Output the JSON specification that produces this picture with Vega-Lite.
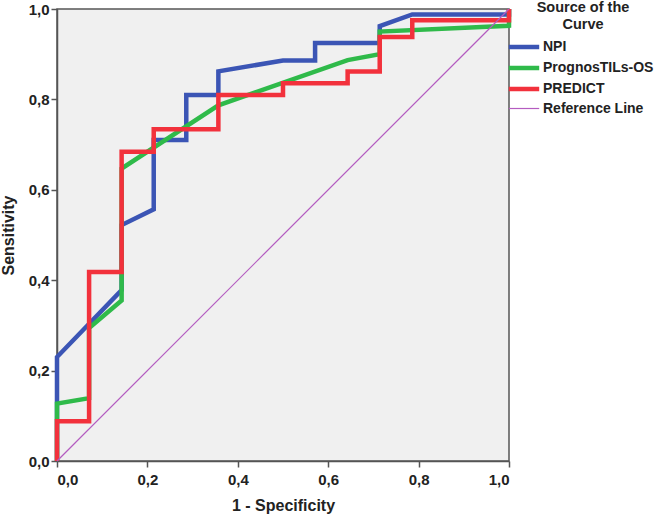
{
  "$schema": "https://vega.github.io/schema/vega-lite/v6.json",
  "width": 452,
  "height": 452,
  "autosize": "none",
  "padding": {"left": 57, "top": 9, "right": 148, "bottom": 58},
  "background": "white",
  "config": {
    "font": "Liberation Sans",
    "view": {"fill": "#f0f0f0", "stroke": "#555555", "strokeWidth": 1.5},
    "axis": {
      "grid": false,
      "domainColor": "#555555",
      "domainWidth": 1.5,
      "tickColor": "#555555",
      "tickWidth": 1.5,
      "tickSize": 6,
      "labelFont": "Liberation Sans",
      "labelFontWeight": "bold",
      "labelFontSize": 15,
      "labelColor": "#222222",
      "titleFont": "Liberation Sans",
      "titleFontWeight": "bold",
      "titleFontSize": 16,
      "titleColor": "#222222"
    },
    "legend": {
      "titleFont": "Liberation Sans",
      "titleFontSize": 14.5,
      "titleFontWeight": "bold",
      "titleColor": "#222222",
      "labelFont": "Liberation Sans",
      "labelFontSize": 14,
      "labelFontWeight": "bold",
      "labelColor": "#222222"
    }
  },
  "data": {
    "values": [
      {"curve": "NPI", "i": 0, "x": 0, "y": 0},
      {"curve": "NPI", "i": 1, "x": 0, "y": 0.23},
      {"curve": "NPI", "i": 2, "x": 0.143, "y": 0.378},
      {"curve": "NPI", "i": 3, "x": 0.143, "y": 0.522},
      {"curve": "NPI", "i": 4, "x": 0.214, "y": 0.557},
      {"curve": "NPI", "i": 5, "x": 0.214, "y": 0.71},
      {"curve": "NPI", "i": 6, "x": 0.286, "y": 0.71},
      {"curve": "NPI", "i": 7, "x": 0.286, "y": 0.81},
      {"curve": "NPI", "i": 8, "x": 0.357, "y": 0.81},
      {"curve": "NPI", "i": 9, "x": 0.357, "y": 0.862},
      {"curve": "NPI", "i": 10, "x": 0.5, "y": 0.886},
      {"curve": "NPI", "i": 11, "x": 0.571, "y": 0.886},
      {"curve": "NPI", "i": 12, "x": 0.571, "y": 0.925},
      {"curve": "NPI", "i": 13, "x": 0.714, "y": 0.925},
      {"curve": "NPI", "i": 14, "x": 0.714, "y": 0.962},
      {"curve": "NPI", "i": 15, "x": 0.786, "y": 0.988},
      {"curve": "NPI", "i": 16, "x": 1, "y": 0.988},
      {"curve": "NPI", "i": 17, "x": 1, "y": 1},
      {"curve": "PrognosTILs-OS", "i": 0, "x": 0, "y": 0},
      {"curve": "PrognosTILs-OS", "i": 1, "x": 0, "y": 0.127},
      {"curve": "PrognosTILs-OS", "i": 2, "x": 0.071, "y": 0.139},
      {"curve": "PrognosTILs-OS", "i": 3, "x": 0.071, "y": 0.294},
      {"curve": "PrognosTILs-OS", "i": 4, "x": 0.143, "y": 0.355},
      {"curve": "PrognosTILs-OS", "i": 5, "x": 0.143, "y": 0.647},
      {"curve": "PrognosTILs-OS", "i": 6, "x": 0.357, "y": 0.787},
      {"curve": "PrognosTILs-OS", "i": 7, "x": 0.643, "y": 0.887},
      {"curve": "PrognosTILs-OS", "i": 8, "x": 0.714, "y": 0.9},
      {"curve": "PrognosTILs-OS", "i": 9, "x": 0.714, "y": 0.95},
      {"curve": "PrognosTILs-OS", "i": 10, "x": 1, "y": 0.963},
      {"curve": "PrognosTILs-OS", "i": 11, "x": 1, "y": 1},
      {"curve": "PREDICT", "i": 0, "x": 0, "y": 0},
      {"curve": "PREDICT", "i": 1, "x": 0, "y": 0.088},
      {"curve": "PREDICT", "i": 2, "x": 0.071, "y": 0.088},
      {"curve": "PREDICT", "i": 3, "x": 0.071, "y": 0.418},
      {"curve": "PREDICT", "i": 4, "x": 0.143, "y": 0.418},
      {"curve": "PREDICT", "i": 5, "x": 0.143, "y": 0.684},
      {"curve": "PREDICT", "i": 6, "x": 0.214, "y": 0.684},
      {"curve": "PREDICT", "i": 7, "x": 0.214, "y": 0.734},
      {"curve": "PREDICT", "i": 8, "x": 0.357, "y": 0.734},
      {"curve": "PREDICT", "i": 9, "x": 0.357, "y": 0.81},
      {"curve": "PREDICT", "i": 10, "x": 0.5, "y": 0.81},
      {"curve": "PREDICT", "i": 11, "x": 0.5, "y": 0.836},
      {"curve": "PREDICT", "i": 12, "x": 0.643, "y": 0.836},
      {"curve": "PREDICT", "i": 13, "x": 0.643, "y": 0.862},
      {"curve": "PREDICT", "i": 14, "x": 0.714, "y": 0.862},
      {"curve": "PREDICT", "i": 15, "x": 0.714, "y": 0.938},
      {"curve": "PREDICT", "i": 16, "x": 0.786, "y": 0.938},
      {"curve": "PREDICT", "i": 17, "x": 0.786, "y": 0.975},
      {"curve": "PREDICT", "i": 18, "x": 1, "y": 0.975},
      {"curve": "PREDICT", "i": 19, "x": 1, "y": 1},
      {"curve": "Reference Line", "i": 0, "x": 0, "y": 0},
      {"curve": "Reference Line", "i": 1, "x": 1, "y": 1}
    ]
  },
  "mark": {"type": "line", "strokeCap": "butt", "strokeJoin": "miter", "clip": false},
  "encoding": {
    "x": {
      "field": "x", "type": "quantitative",
      "scale": {"domain": [0, 1], "nice": false, "zero": false},
      "axis": {"values": [0, 0.2, 0.4, 0.6, 0.8, 1.0], "labelExpr": "replace(format(datum.value, '.1f'), '.', ',')", "title": "1 - Specificity", "titlePadding": 10, "labelPadding": 5}
    },
    "y": {
      "field": "y", "type": "quantitative",
      "scale": {"domain": [0, 1], "nice": false, "zero": false},
      "axis": {"values": [0, 0.2, 0.4, 0.6, 0.8, 1.0], "labelExpr": "replace(format(datum.value, '.1f'), '.', ',')", "title": "Sensitivity", "titlePadding": 12, "labelPadding": 2}
    },
    "order": {"field": "i", "type": "quantitative"},
    "color": {
      "field": "curve", "type": "nominal",
      "scale": {
        "domain": ["NPI", "PrognosTILs-OS", "PREDICT", "Reference Line"],
        "range": ["#3b55b5", "#2fba4a", "#f2313c", "#b45cc0"]
      },
      "legend": {
        "title": ["Source of the", "Curve"],
        "orient": "none",
        "legendX": 455,
        "legendY": -8,
        "titleAlign": "center",
        "titleAnchor": "middle",
        "titlePadding": 3,
        "labelOffset": 7,
        "symbolType": "M-1.6,0H1.6",
        "symbolSize": 361,
        "rowPadding": -2
      }
    },
    "strokeWidth": {
      "field": "curve", "type": "nominal",
      "scale": {
        "type": "ordinal",
        "domain": ["NPI", "PrognosTILs-OS", "PREDICT", "Reference Line"],
        "range": [4.5, 4.5, 4.5, 1.2]
      },
      "legend": {
        "title": ["Source of the", "Curve"],
        "orient": "none",
        "legendX": 455,
        "legendY": -8,
        "titleAlign": "center",
        "titleAnchor": "middle",
        "titlePadding": 3,
        "labelOffset": 7,
        "symbolType": "M-1.6,0H1.6",
        "symbolSize": 361,
        "rowPadding": -2
      }
    }
  }
}
